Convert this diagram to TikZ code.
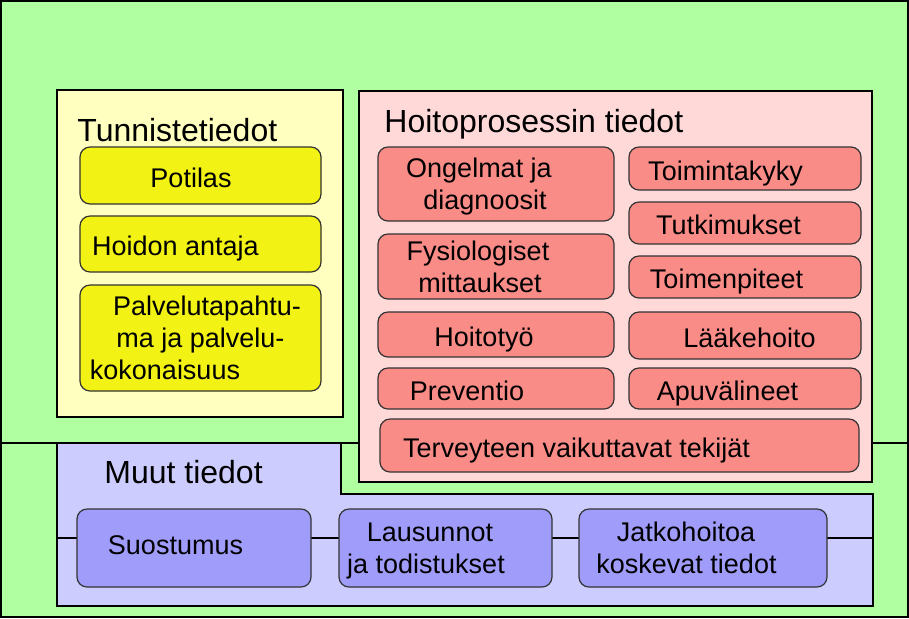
\documentclass[tikz,border=0pt]{standalone}
\usepackage{fontspec}
\setmainfont{Liberation Sans}
\usepackage{tikz}
\usetikzlibrary{positioning}

\begin{document}
\begin{tikzpicture}[
  x=0.5pt, y=-0.5pt,
  every node/.style={font=\fontsize{13.5}{16}\selectfont},
  box/.style={rectangle, rounded corners=5pt, draw=black!80, line width=0.6pt, inner sep=0pt, text depth=0pt},
  sz/.style 2 args={minimum width=#1*0.5pt, minimum height=#2*0.5pt},
  tsh/.style={text height=11.5pt, execute at end node={\hspace*{#1pt}}},
  ttl/.style={anchor=base west, inner sep=0pt, font=\fontsize{16}{19}\selectfont},
  panel/.style={draw=black, line width=0.6pt}
]
  % colours
  \definecolor{cGr}{RGB}{176,255,160}
  \definecolor{cYp}{RGB}{255,255,192}
  \definecolor{cYi}{RGB}{242,242,20}
  \definecolor{cPp}{RGB}{255,216,216}
  \definecolor{cPi}{RGB}{250,140,136}
  \definecolor{cLp}{RGB}{204,204,255}
  \definecolor{cLi}{RGB}{160,156,250}

  \useasboundingbox (0,0) rectangle (909,618);
  \draw[fill=cGr, line width=1pt] (1,1) rectangle (908,617);

  % dividing line
  \coordinate (hL) at (1,443);
  \coordinate (hR) at (908,443);
  \draw[line width=0.6pt] (hL) -- (hR);

  % panels
  \draw[panel, fill=cYp] (57,90) rectangle (343,417);
  \draw[panel, fill=cPp] (359,91) rectangle (872,482);
  \draw[panel, fill=cLp] (57,443) -- (341,443) -- (341,494) -- (873,494)
    -- (873,606) -- (57,606) -- cycle;

  % titles
  \node[ttl] (tTun) at (77,141) {Tunnistetiedot};
  \node[ttl] (tHoi) at (384,132) {Hoitoprosessin tiedot};
  \node[ttl] (tMuu) at (104,483) {Muut tiedot};

  % Tunnistetiedot
  \node[box, fill=cYi, sz={241}{57}, tsh=9.5] (pot) at (200.5,175.5) {Potilas};
  \node[box, fill=cYi, sz={241}{56}, tsh=25] (hoi) at (200.5,244) {Hoidon antaja};
  \node[box, fill=cYi, sz={241}{106}, align=center] (pal) at (200.5,338)
    {Palvelutapahtu-\hspace*{-6.5pt}\\ma ja palvelu-\hspace*{-5.5pt}\\kokonaisuus\hspace*{35.5pt}};

  % Hoitoprosessin tiedot, left column
  \node[box, fill=cPi, sz={236}{74}, align=center] (ong) at (496,184)
    {Ongelmat ja\hspace*{17pt}\\diagnoosit\hspace*{11pt}};
  \node[box, fill=cPi, sz={236}{65}, align=center] (fys) at (496,266.5)
    {Fysiologiset\hspace*{18pt}\\mittaukset\hspace*{16pt}};
  \node[box, fill=cPi, sz={236}{45}, tsh=12] (htt) at (496,334.5) {Hoitotyö};
  \node[box, fill=cPi, sz={236}{41}, tsh=29] (pre) at (496,388.5) {Preventio};
  \node[box, fill=cPi, sz={479}{53}, tsh=43] (ter) at (619.5,445.5) {Terveyteen vaikuttavat tekijät};

  % Hoitoprosessin tiedot, right column
  \node[box, fill=cPi, sz={232}{43}, tsh=19.5] (tki) at (745,168.5) {Toimintakyky};
  \node[box, fill=cPi, sz={232}{42}, tsh=16.5] (tut) at (745,223) {Tutkimukset};
  \node[box, fill=cPi, sz={232}{42}, tsh=18.5] (tmp) at (745,277) {Toimenpiteet};
  \node[box, fill=cPi, sz={232}{47}, tsh=-4.5] (laa) at (745,335.5) {Lääkehoito};
  \node[box, fill=cPi, sz={232}{41}, tsh=17.5] (apu) at (745,388.5) {Apuvälineet};

  % Muut tiedot
  \coordinate (mL) at (57,538);
  \coordinate (mR) at (873,538);
  \draw[line width=0.6pt] (mL) -- (mR);
  \node[box, fill=cLi, sz={234}{78}, tsh=18.5, text height=9.7pt, text depth=3.5pt] (suo) at (194,548) {Suostumus};
  \node[box, fill=cLi, sz={213}{78}, align=center] (lau) at (445.5,548)
    {Lausunnot\hspace*{15.5pt}\\ja todistukset\hspace*{19.5pt}};
  \node[box, fill=cLi, sz={248}{78}, align=center] (jat) at (703,548)
    {Jatkohoitoa\hspace*{17pt}\\koskevat tiedot\hspace*{16.5pt}};

\end{tikzpicture}
\end{document}
